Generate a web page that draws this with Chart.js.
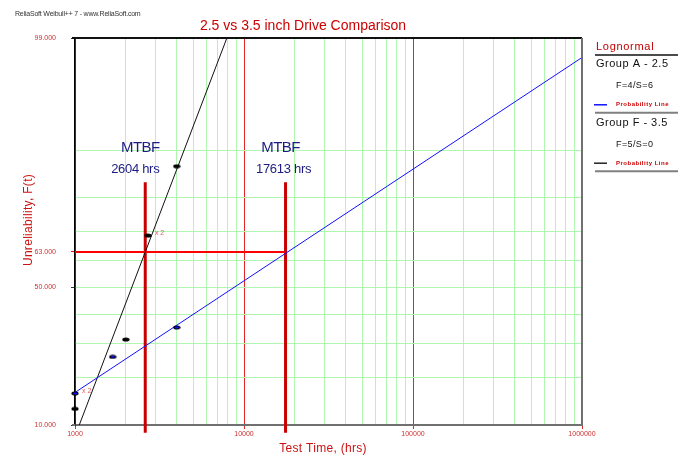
<!DOCTYPE html>
<html>
<head>
<meta charset="utf-8">
<title>2.5 vs 3.5 inch Drive Comparison</title>
<script src="https://cdn.jsdelivr.net/npm/chart.js@4/dist/chart.umd.min.js"></script>
<style>
  html, body { margin: 0; padding: 0; background: #fff; }
  canvas { display: block; }
</style>
</head>
<body>
<canvas id="prob-chart" width="685" height="455"></canvas>
<script>
// ---- data ----
const groupATimes = [1000, 1670, 4000];
const groupAUnrel = [16.2, 25.9, 35.5];          // %
const groupFTimes = [1000, 2000, 2700, 4000];
const groupFUnrel = [12.9, 31.4, 68.6, 87.1];    // %

// fitted probability lines (end points)
const groupALineTimes = [1000, 1000000];
const groupALineUnrel = [16.4, 98.4];
const groupFLineTimes = [1060, 7920];
const groupFLineUnrel = [10, 99];

// MTBF markers
const mtbfTimes = [2604, 17613];
const mtbfLabels = ['2604 hrs', '17613 hrs'];
const mtbfLevel = 63;          // horizontal red line, %
const mtbfTop = 83.7;          // top of vertical markers, %
const mtbfBottom = 8.8;        // runs a little below the axis

// axis ticks
const xDecades = [1000, 10000, 100000, 1000000];
const yTickPercents = [10, 20, 30, 40, 50, 60, 63, 70, 80, 90, 99];
const yLabelPercents = [10, 50, 63, 99];

// legend
const legendGroups = ['Group A - 2.5', 'Group F - 3.5'];
const legendCounts = ['F=4/S=6', 'F=5/S=0'];
const legendColors = ['#1010ff', '#222222'];

// inverse normal cdf (probability paper scale)
function probit(p) {
  const a = [-3.969683028665376e+01, 2.209460984245205e+02, -2.759285104469687e+02, 1.383577518672690e+02, -3.066479806614716e+01, 2.506628277459239e+00];
  const b = [-5.447609879822406e+01, 1.615858368580409e+02, -1.556989798598866e+02, 6.680131188771972e+01, -1.328068155288572e+01];
  const c = [-7.784894002430293e-03, -3.223964580411365e-01, -2.400758277161838e+00, -2.549732539343734e+00, 4.374664141464968e+00, 2.938163982698783e+00];
  const d = [7.784695709041462e-03, 3.224671290700398e-01, 2.445134137142996e+00, 3.754408661907416e+00];
  const pl = 0.02425;
  let q, r;
  if (p < pl) {
    q = Math.sqrt(-2 * Math.log(p));
    return (((((c[0]*q+c[1])*q+c[2])*q+c[3])*q+c[4])*q+c[5]) / ((((d[0]*q+d[1])*q+d[2])*q+d[3])*q+1);
  }
  if (p > 1 - pl) {
    q = Math.sqrt(-2 * Math.log(1 - p));
    return -(((((c[0]*q+c[1])*q+c[2])*q+c[3])*q+c[4])*q+c[5]) / ((((d[0]*q+d[1])*q+d[2])*q+d[3])*q+1);
  }
  q = p - 0.5; r = q * q;
  return (((((a[0]*r+a[1])*r+a[2])*r+a[3])*r+a[4])*r+a[5])*q / (((((b[0]*r+b[1])*r+b[2])*r+b[3])*r+b[4])*r+1);
}

function toPoints(times, unrel) {
  return times.map((t, i) => ({ x: t, y: probit(unrel[i] / 100) }));
}

// small flat dots like the original
function makeDot(fill) {
  const cv = document.createElement('canvas');
  cv.width = 8; cv.height = 5;
  const g = cv.getContext('2d');
  g.fillStyle = '#000';
  g.beginPath(); g.ellipse(4, 2.5, 3.6, 2.1, 0, 0, Math.PI * 2); g.fill();
  if (fill) {
    g.fillStyle = fill;
    g.beginPath(); g.ellipse(4, 2.5, 2.2, 1.0, 0, 0, Math.PI * 2); g.fill();
  }
  return cv;
}

const xTicks = [];
xDecades.forEach(dec => {
  if (dec === 1000000) { xTicks.push(dec); return; }
  for (let k = 1; k < 10; k++) xTicks.push(dec * k);
});

const GREEN = 'rgb(176,245,176)';
const DECADE_RED = 'rgb(225,40,40)';

const overlay = {
  id: 'overlay',
  afterDraw(chart) {
    const c = chart.ctx;
    const area = chart.chartArea;
    const xs = chart.scales.x, ys = chart.scales.y;
    const seg = (x1, y1, x2, y2) => { c.beginPath(); c.moveTo(x1, y1); c.lineTo(x2, y2); c.stroke(); };
    c.save();

    // frame
    c.strokeStyle = '#111'; c.lineWidth = 2;
    seg(72, area.top, area.right, area.top);
    c.strokeStyle = '#707070';
    seg(area.right, area.top, area.right, area.bottom + 1);
    seg(72, area.bottom, area.left, area.bottom);

    // watermark
    c.fillStyle = '#333';
    c.font = '7px "Liberation Sans", Arial, sans-serif';
    c.letterSpacing = '-0.2px';
    c.textAlign = 'left'; c.textBaseline = 'alphabetic';
    c.fillText('ReliaSoft Weibull++ 7 - www.ReliaSoft.com', 15, 15.5);

    // title
    c.letterSpacing = '0px';
    c.fillStyle = '#cc0000';
    c.font = '14px "Liberation Sans", Arial, sans-serif';
    c.textAlign = 'center';
    c.fillText('2.5 vs 3.5 inch Drive Comparison', 303, 30);

    // axis titles
    c.fillStyle = '#cc1111';
    c.font = '12px "Liberation Sans", Arial, sans-serif';
    c.letterSpacing = '0.3px';
    c.fillText('Test Time, (hrs)', 323, 451.5);
    c.save();
    c.translate(32, 220);
    c.rotate(-Math.PI / 2);
    c.fillText('Unreliability, F(t)', 0, 0);
    c.restore();
    c.letterSpacing = '0px';

    // MTBF labels
    const mtbfOffsets = [-10, -2];
    c.fillStyle = '#1c1c82';
    mtbfTimes.forEach((t, i) => {
      const px = xs.getPixelForValue(t);
      c.font = '15px "Liberation Sans", Arial, sans-serif';
      c.letterSpacing = '-0.6px';
      c.fillText('MTBF', px - 5, 151.5);
      c.font = '13px "Liberation Sans", Arial, sans-serif';
      c.letterSpacing = '-0.3px';
      c.fillText(mtbfLabels[i], px + mtbfOffsets[i], 173.3);
    });
    c.letterSpacing = '0px';

    // "x 2" notes next to doubled points
    c.fillStyle = '#e06060';
    c.font = '7px "Liberation Sans", Arial, sans-serif';
    c.textAlign = 'left'; c.textBaseline = 'middle';
    const notes = [
      { t: groupATimes[0], f: groupAUnrel[0] },
      { t: groupFTimes[2], f: groupFUnrel[2] }
    ];
    notes.forEach(n => {
      c.fillText('x 2', xs.getPixelForValue(n.t) + 7, ys.getPixelForValue(probit(n.f / 100)) - 2);
    });

    // legend panel
    c.textBaseline = 'alphabetic';
    c.fillStyle = '#c00000';
    c.font = '11px "Liberation Sans", Arial, sans-serif';
    c.letterSpacing = '0.7px';
    c.fillText('Lognormal', 596, 50);
    c.strokeStyle = '#111'; c.lineWidth = 1.5;
    seg(595, 55, 678, 55);

    const rowY = [67.3, 125.7];
    legendGroups.forEach((name, i) => {
      const y0 = rowY[i];
      c.fillStyle = '#111';
      c.font = '11px "Liberation Sans", Arial, sans-serif';
      c.letterSpacing = '0.5px';
      c.fillText(name, 596, y0);
      c.font = '9px "Liberation Sans", Arial, sans-serif';
      c.letterSpacing = '0.4px';
      c.fillText(legendCounts[i], 616, y0 + 21);
      c.strokeStyle = legendColors[i]; c.lineWidth = 1.5;
      seg(594, y0 + 37.5, 607, y0 + 37.5);
      c.fillStyle = '#cc0000';
      c.font = 'bold 6px "Liberation Sans", Arial, sans-serif';
      c.letterSpacing = '0.5px';
      c.textBaseline = 'middle';
      c.fillText('Probability Line', 616, y0 + 37.5);
      c.textBaseline = 'alphabetic';
      c.strokeStyle = '#808080'; c.lineWidth = 2;
      seg(595, y0 + 45.5, 678, y0 + 45.5);
    });

    c.restore();
  }
};

const chart = new Chart(document.getElementById('prob-chart').getContext('2d'), {
  type: 'scatter',
  data: {
    datasets: [
      {
        label: 'Group A - 2.5',
        data: toPoints(groupATimes, groupAUnrel),
        pointStyle: makeDot('#1010ff'),
        clip: false,
        order: 0
      },
      {
        label: 'Group F - 3.5',
        data: toPoints(groupFTimes, groupFUnrel),
        pointStyle: makeDot(null),
        clip: false,
        order: 0
      },
      {
        label: 'Group A Probability Line',
        data: toPoints(groupALineTimes, groupALineUnrel),
        showLine: true, pointRadius: 0,
        borderColor: '#1010ff', borderWidth: 1,
        order: 1
      },
      {
        label: 'Group F Probability Line',
        data: toPoints(groupFLineTimes, groupFLineUnrel),
        showLine: true, pointRadius: 0,
        borderColor: '#111', borderWidth: 1,
        order: 1
      },
      {
        label: 'MTBF level',
        data: toPoints([1000, mtbfTimes[1]], [mtbfLevel, mtbfLevel]),
        showLine: true, pointRadius: 0,
        borderColor: '#ff0000', borderWidth: 2,
        order: 2
      },
      ...mtbfTimes.map(t => ({
        label: 'MTBF ' + t,
        data: toPoints([t, t], [mtbfTop, mtbfBottom]),
        showLine: true, pointRadius: 0,
        borderColor: '#c80000', borderWidth: 3,
        clip: false,
        order: 2
      }))
    ]
  },
  options: {
    responsive: false,
    devicePixelRatio: 1,
    animation: false,
    events: [],
    layout: { padding: { left: 0, top: 38, right: 103, bottom: 0 } },
    plugins: {
      legend: { display: false },
      title: { display: false },
      tooltip: { enabled: false }
    },
    scales: {
      x: {
        type: 'logarithmic',
        min: 1000,
        max: 1000000,
        afterBuildTicks: s => { s.ticks = xTicks.map(v => ({ value: v })); },
        afterFit: s => { s.height = 30; },
        border: { color: '#707070', width: 2 },
        grid: {
          color: ctx => xDecades.includes(ctx.tick.value) ? DECADE_RED : GREEN,
          tickColor: ctx => xDecades.includes(ctx.tick.value) ? DECADE_RED : 'rgba(0,0,0,0)',
          tickLength: 4,
          lineWidth: 1
        },
        ticks: {
          autoSkip: false,
          maxRotation: 0,
          padding: 1,
          color: '#d03030',
          font: { family: '"Liberation Sans", Arial, sans-serif', size: 7 },
          callback: v => xDecades.includes(v) ? String(v) : ''
        }
      },
      y: {
        type: 'linear',
        min: probit(0.10),
        max: probit(0.99),
        afterBuildTicks: s => { s.ticks = yTickPercents.map(p => ({ value: probit(p / 100) })); },
        afterFit: s => { s.width = 75; },
        border: { color: '#000', width: 1.5 },
        grid: {
          color: ctx => yTickPercents[ctx.index] === mtbfLevel ? 'rgba(0,0,0,0)' : GREEN,
          tickColor: ctx => {
            const p = yTickPercents[ctx.index];
            if (p === mtbfLevel) return '#ff0000';
            return yLabelPercents.includes(p) ? '#333' : 'rgba(0,0,0,0)';
          },
          tickLength: 4,
          lineWidth: 1
        },
        ticks: {
          autoSkip: false,
          padding: 15,
          color: '#d03030',
          font: { family: '"Liberation Sans", Arial, sans-serif', size: 7 },
          callback: (v, i) => yLabelPercents.includes(yTickPercents[i]) ? yTickPercents[i].toFixed(3) : ''
        }
      }
    }
  },
  plugins: [overlay]
});
</script>
</body>
</html>
